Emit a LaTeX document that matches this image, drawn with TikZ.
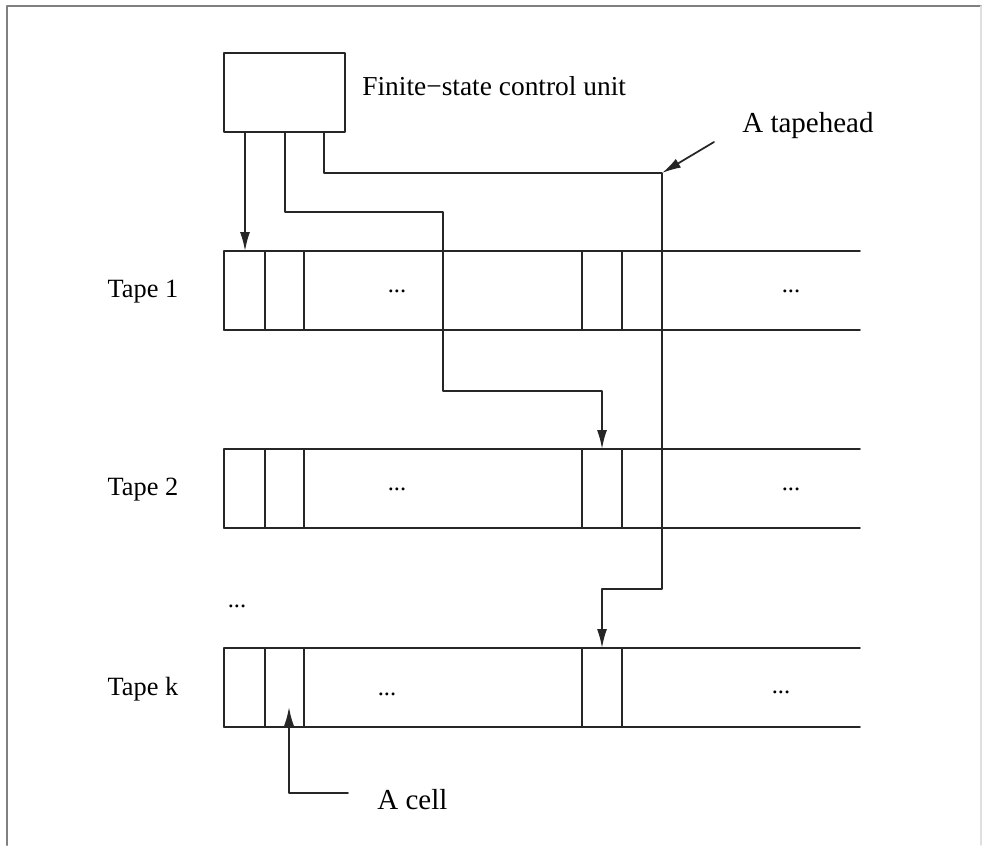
\documentclass[tikz,border=0pt]{standalone}
\usepackage{fontspec}
\setmainfont{Liberation Serif}
\usepackage{tikz}
\usetikzlibrary{arrows.meta}

\begin{document}
\begin{tikzpicture}[line cap=round,line join=round,>={Latex[length=3.8mm,width=2mm]},x=0.02cm,y=-0.02cm,
  wire/.style={line width=1pt,color=black!85},
  lbl/.style={font=\fontsize{15}{17}\selectfont,inner sep=0pt},
  biglbl/.style={font=\fontsize{16.5}{19}\selectfont,inner sep=0pt},
  dots/.style={font=\fontsize{14}{16}\selectfont,inner sep=0pt}]
\useasboundingbox (0,0) rectangle (982,845);
\draw [color=gray,line width=1.2pt] (7,845) -- (7,6) -- (981,6);
\draw [color=gray!25,line width=0.8pt] (981,6) -- (981,845);
\node [draw,wire,minimum width=2.42cm,minimum height=1.58cm,inner sep=0pt] (ctrl) at (284.5,92.5) {};
\node [lbl,font=\fontsize{15.6}{18}\selectfont,anchor=west] (ctrlname) at (362,86) {Finite{\char"2212}state control unit};
\foreach \t/\y in {1/251,2/449,k/648}{
  \draw [wire] (224,\y) -- (860,\y);
  \draw [wire] (224,\y+79) -- (860,\y+79);
  \foreach \c in {224,265,304,582,622}
    \draw [wire] (\c,\y) -- (\c,\y+79);
  \coordinate (top\t) at (224,\y);
  \coordinate (bot\t) at (224,\y+79);
  \node [lbl] (tape\t) at (143,\y+41) {Tape \t};
}
\node [dots] (d1a) at (397,291) {...};
\node [dots] (d1b) at (791,291) {...};
\node [dots] (d2a) at (397,489) {...};
\node [dots] (d2b) at (791,489) {...};
\node [dots] (dka) at (387,694) {...};
\node [dots] (dkb) at (781,692) {...};
\node [dots] (dmid) at (237,606) {...};
\node [biglbl,anchor=west] (headname) at (742,126) {A tapehead};
\node [biglbl,anchor=west] (cellname) at (377,800) {A cell};
\coordinate (bend) at (662,173);
\draw [wire,->] (ctrl.south -| 245,0) -- (top1 -| 245,0);
\draw [wire,->] (ctrl.south -| 285,0) |- (443,212) |- (602,391) -- (top2 -| 602,0);
\draw [wire,->] (ctrl.south -| 324,0) |- (bend) |- (602,589) -- (topk -| 602,0);
\draw [wire,->] (714,142) -- (bend);
\draw [wire,->] (cellname.west) ++(-29,-7) -| (289,707);
\end{tikzpicture}
\end{document}
